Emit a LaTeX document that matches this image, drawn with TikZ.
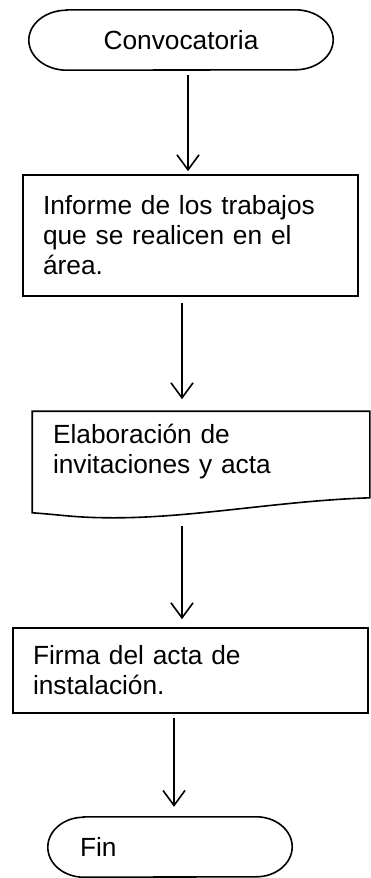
\documentclass[tikz,border=0pt]{standalone}
\usepackage{fontspec}
\setmainfont{Liberation Sans}
\usetikzlibrary{arrows.meta}

\begin{document}
\begin{tikzpicture}[x=1pt,y=1pt,
  line/.style={line width=1.6pt},
  flow/.style={line width=1.6pt, -{Straight Barb[length=15pt,width=22pt]}},
  box/.style={draw, line width=1.6pt, inner xsep=20pt, inner ysep=0pt, align=left,
    font=\fontsize{26.3}{30}\selectfont},
  termtext/.style={inner sep=0pt, font=\fontsize{26.3}{30}\selectfont}]
\useasboundingbox (0,0) rectangle (370,-878);
% Start
\node[termtext, minimum width=304pt, minimum height=60pt] (conv) at (181,-40) {Convocatoria};
\draw[line] ([xshift=38pt]conv.north west) -- ([xshift=-38pt]conv.north east)
  arc[start angle=90, end angle=-90, x radius=38pt, y radius=30pt]
  -- ([xshift=38pt]conv.south west)
  arc[start angle=270, end angle=90, x radius=38pt, y radius=30pt] -- cycle;
% Steps
\node[box, text width=295pt, minimum height=121pt] (inf) at (190.5,-235.5)
  {Informe de los trabajos\\que se realicen en el\\área.};
\node[box, draw=none, text width=296pt, minimum height=80pt] (doc) at (201,-452)
  {Elaboración de\\invitaciones y acta};
\draw[line] ([yshift=-20pt]doc.south west) -- (doc.north west) -- (doc.north east)
  -- ([yshift=-5pt]doc.south east)
  .. controls +(-90,-3) and +(80,0) .. ([xshift=82pt,yshift=-25pt]doc.south west)
  .. controls +(-40,0) and +(30,-2) .. ([yshift=-20pt]doc.south west) -- cycle;
\node[box, text width=315pt, minimum height=85pt] (firma) at (190.5,-670.5)
  {Firma del acta de\\instalación.};
% End
\node[termtext, minimum width=244pt, minimum height=60pt, text width=180pt, align=left] (fin) at (170,-847) {Fin};
\draw[line] ([xshift=36pt]fin.north west) -- ([xshift=-36pt]fin.north east)
  arc[start angle=90, end angle=-90, x radius=36pt, y radius=30pt]
  -- ([xshift=36pt]fin.south west)
  arc[start angle=270, end angle=90, x radius=36pt, y radius=30pt] -- cycle;
% Arrows
\draw[flow, shorten <=5pt, shorten >=3pt] ([xshift=7pt]conv.south) -- ([xshift=7pt]conv.south |- inf.north);
\draw[flow, shorten <=6pt, shorten >=12pt] ([xshift=-8.5pt]inf.south) -- ([xshift=-8.5pt]inf.south |- doc.north);
\draw[flow, shorten <=33pt, shorten >=8pt] ([xshift=-19pt]doc.south) -- ([xshift=-19pt]doc.south |- firma.north);
\draw[flow, shorten <=4pt, shorten >=10pt] ([xshift=4pt]fin.north |- firma.south) -- ([xshift=4pt]fin.north);
\end{tikzpicture}
\end{document}
